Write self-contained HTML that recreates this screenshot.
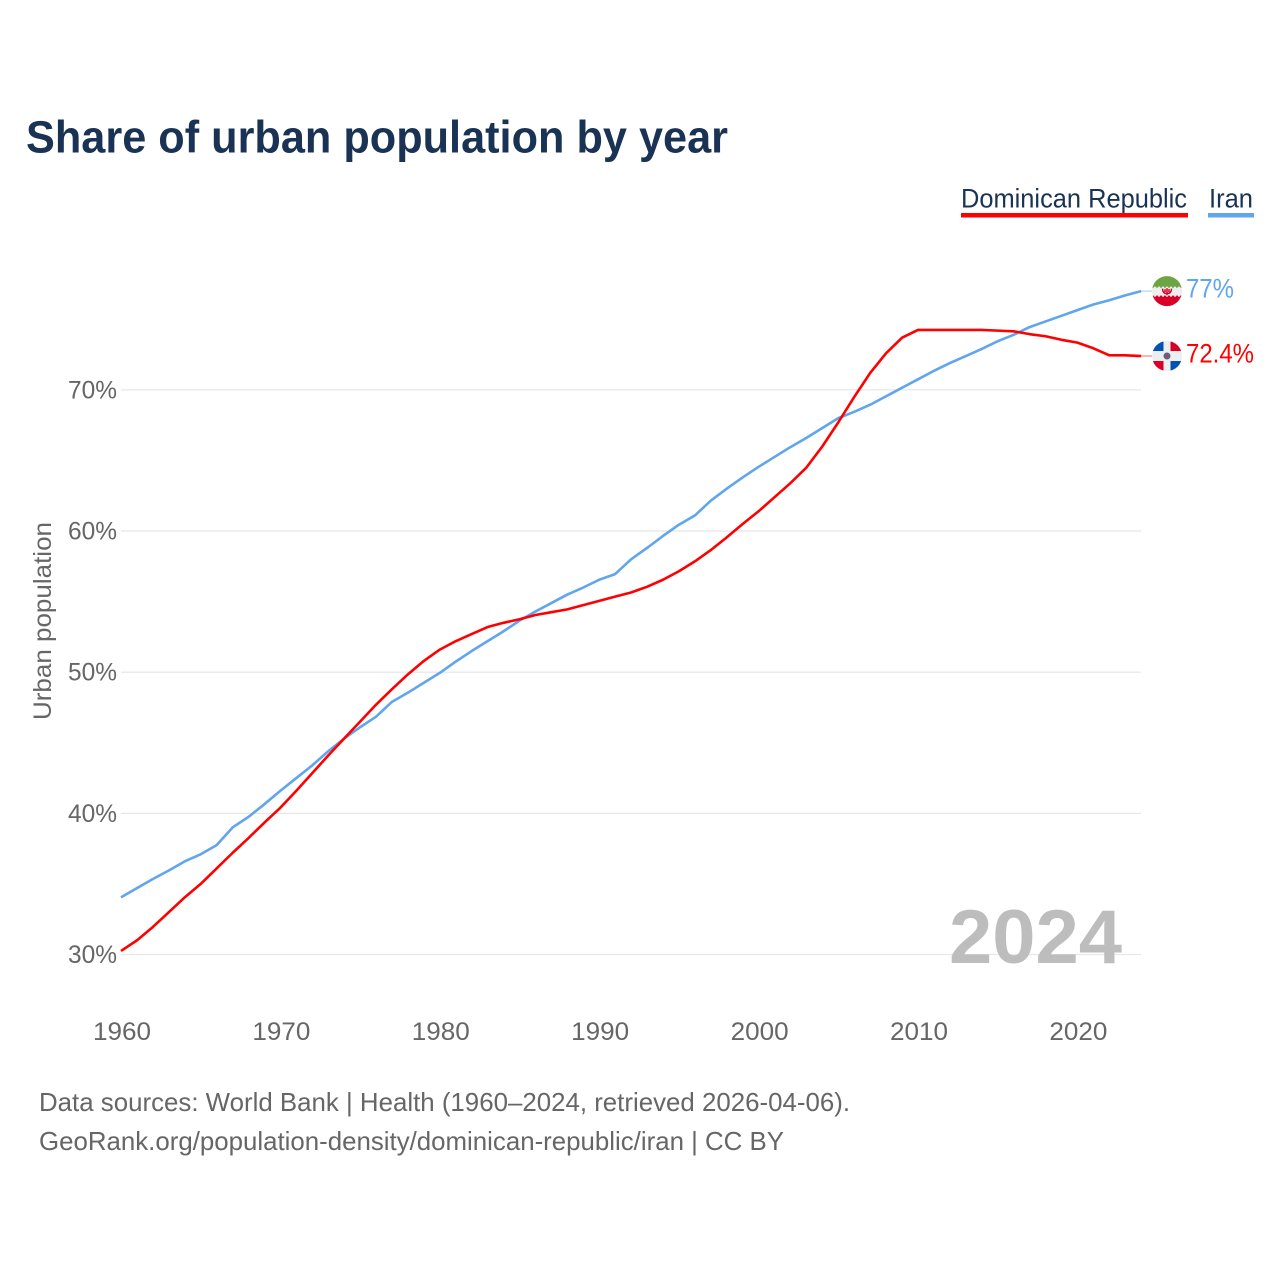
<!DOCTYPE html>
<html lang="en">
<head>
<meta charset="utf-8">
<title>Share of urban population by year</title>
<style>
html,body{margin:0;padding:0;background:#fff;}
svg{display:block;font-family:"Liberation Sans",sans-serif;}
</style>
</head>
<body>
<svg id="chart" width="1280" height="1280" viewBox="0 0 1280 1280" xmlns="http://www.w3.org/2000/svg">
  <rect width="1280" height="1280" fill="#fff"/>
  <text x="26" y="152.5" font-size="45" font-weight="700" fill="#1a3354" textLength="702" lengthAdjust="spacingAndGlyphs">Share of urban population by year</text>
  <g>
    <g>
      <text x="961" y="207.5" font-size="27" fill="#1a3354" textLength="226" lengthAdjust="spacingAndGlyphs">Dominican Republic</text>
      <rect x="961" y="213" width="227" height="4.5" fill="#ff0000"/>
    </g>
    <g>
      <text x="1209" y="207.5" font-size="27" fill="#1a3354" textLength="44" lengthAdjust="spacingAndGlyphs">Iran</text>
      <rect x="1208" y="213" width="46" height="4.5" fill="#60a5ee"/>
    </g>
  </g>
  <text transform="translate(51,621) rotate(-90)" text-anchor="middle" font-size="25" fill="#666" textLength="198" lengthAdjust="spacingAndGlyphs">Urban population</text>
  <g id="grid"></g>
  <g id="yticks"></g>
  <g id="xticks"></g>
  <text x="1122" y="963" text-anchor="end" font-size="76" font-weight="700" fill="#bdbdbd" textLength="173" lengthAdjust="spacingAndGlyphs">2024</text>
  <g id="series"></g>
  <defs>
    <clipPath id="iran-clip"><circle cx="1167" cy="0" r="15"/></clipPath>
    <clipPath id="dr-clip"><circle cx="1167" cy="0" r="15"/></clipPath>
  </defs>
  <g id="flag-iran">
    <g clip-path="url(#iran-clip)">
      <rect x="1151" y="-16" width="32" height="32" fill="#eeeeee"/>
      <path d="M1151-16h32v11l-2 2-2-2-2 2-2-2-2 2-2-2-2 2-2-2-2 2-2-2-2 2-2-2-2 2-2-2-2 2-2-2z" fill="#6da544"/>
      <path d="M1151 16h32v-10l-2-2-2 2-2-2-2 2-2-2-2 2-2-2-2 2-2-2-2 2-2-2-2 2-2-2-2 2-2-2 2z" fill="#d80027"/>
      <path d="M1162.5-2.500c0 3 1.500 5 4.500 5s4.500-2 4.500-5M1167-3v7M1165-2v3M1169-2v3" fill="none" stroke="#d80027" stroke-width="1.5"/>
    </g>
  </g>
  <g id="flag-dr">
    <g clip-path="url(#dr-clip)">
      <rect x="1151" y="-16" width="32" height="32" fill="#eeeeee"/>
      <rect x="1151" y="-16" width="12.500" height="11" fill="#0052b4"/>
      <rect x="1170.500" y="-16" width="12.500" height="11" fill="#d80027"/>
      <rect x="1151" y="5" width="12.500" height="11" fill="#d80027"/>
      <rect x="1170.500" y="5" width="12.500" height="11" fill="#0052b4"/>
      <circle cx="1167" cy="0" r="3.500" fill="#496e8d"/>
      <circle cx="1167" cy="0" r="1.600" fill="#c8324a"/>
    </g>
  </g>
  <g id="labels"></g>
  <text x="39" y="1111" font-size="26" fill="#666" textLength="811" lengthAdjust="spacingAndGlyphs">Data sources: World Bank | Health (1960–2024, retrieved 2026-04-06).</text>
  <text x="39" y="1150" font-size="26" fill="#666" textLength="745" lengthAdjust="spacingAndGlyphs">GeoRank.org/population-density/dominican-republic/iran | CC BY</text>
</svg>
<script>
const startYear = 1960;
const yTickValues = [30, 40, 50, 60, 70];
const yTickLabels = ["30%", "40%", "50%", "60%", "70%"];
const xTickValues = [1960, 1970, 1980, 1990, 2000, 2010, 2020];
const xTickLabels = ["1960", "1970", "1980", "1990", "2000", "2010", "2020"];
const iranValues = [34.05,34.7,35.35,35.95,36.6,37.1,37.75,39.0,39.75,40.65,41.6,42.5,43.4,44.4,45.3,46.1,46.85,47.9,48.55,49.25,49.95,50.75,51.5,52.2,52.9,53.65,54.3,54.9,55.5,56.0,56.55,56.95,58.0,58.8,59.65,60.45,61.1,62.15,63.0,63.8,64.55,65.25,65.95,66.6,67.3,68.0,68.45,68.95,69.55,70.15,70.75,71.35,71.9,72.4,72.9,73.45,73.9,74.45,74.85,75.25,75.65,76.05,76.35,76.7,77.0];
const dominicanValues = [30.25,31.0,31.95,33.0,34.05,35.0,36.1,37.2,38.25,39.35,40.4,41.6,42.85,44.1,45.3,46.5,47.7,48.8,49.85,50.8,51.6,52.2,52.7,53.2,53.5,53.75,54.05,54.25,54.45,54.75,55.05,55.35,55.65,56.05,56.55,57.15,57.85,58.65,59.55,60.5,61.4,62.4,63.4,64.5,66.0,67.7,69.5,71.2,72.6,73.7,74.25,74.25,74.25,74.25,74.25,74.2,74.15,73.95,73.8,73.55,73.35,72.95,72.45,72.45,72.4];
const iranLabel = "77%";
const dominicanLabel = "72.4%";

const SVGNS = "http://www.w3.org/2000/svg";
function xScale(year) { return 121 + (year - 1960) * 15.94; }
function yScale(v) { return 954.5 - (v - 30) * 14.115; }
function make(tag, attrs, parent) {
  const el = document.createElementNS(SVGNS, tag);
  for (const k in attrs) el.setAttribute(k, attrs[k]);
  parent.appendChild(el);
  return el;
}
const grid = document.getElementById("grid");
const yticks = document.getElementById("yticks");
const xticks = document.getElementById("xticks");
const series = document.getElementById("series");
const labels = document.getElementById("labels");

yTickValues.forEach(function (v, i) {
  const y = yScale(v);
  const line = make("line", { x1: 121, x2: 1141, y1: y, y2: y, stroke: "#e8e8e8", "stroke-width": 1.3 }, grid);
  
  
  const t = make("text", { x: 117, y: y + 8.5, "text-anchor": "end", "font-size": 25, fill: "#666", textLength: 49, lengthAdjust: "spacingAndGlyphs" }, yticks);
  
  
  t.textContent = yTickLabels[i];
});
xTickValues.forEach(function (v, i) {
  const t = make("text", { x: xScale(v) + 1, y: 1040, "text-anchor": "middle", "font-size": 25, fill: "#666", textLength: 58, lengthAdjust: "spacingAndGlyphs" }, xticks);
  
  
  t.textContent = xTickLabels[i];
});
function pointsFor(values) {
  return values.map(function (v, i) { return xScale(startYear + i).toFixed(2) + "," + yScale(v).toFixed(2); }).join(" ");
}
function drawSeries(values, color, flagId, labelText, labelWidth) {
  const endX = xScale(startYear + values.length - 1);
  const endY = yScale(values[values.length - 1]);
  const conn = make("line", { x1: endX, x2: 1152, y1: endY, y2: endY, stroke: color, "stroke-width": 1, opacity: 0.6 }, series);
  
  
  const line = make("polyline", { points: pointsFor(values), fill: "none", stroke: color, "stroke-width": 2.6, "stroke-linejoin": "round" }, series);
  
  
  document.getElementById(flagId).setAttribute("transform", "translate(0," + endY + ")");
  const t = make("text", { x: 1186, y: endY + 6.5, "font-size": 27, fill: color, textLength: labelWidth, lengthAdjust: "spacingAndGlyphs" }, labels);
  
  
  t.textContent = labelText;
}
drawSeries(iranValues, "#60a5ee", "flag-iran", iranLabel, 48);
drawSeries(dominicanValues, "#ff0000", "flag-dr", dominicanLabel, 68);
</script>
</body>
</html>
